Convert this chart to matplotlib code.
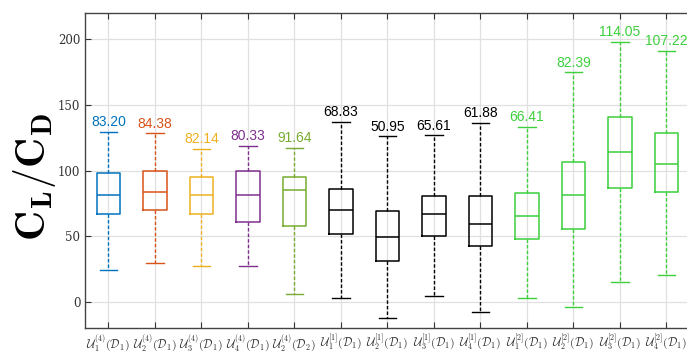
import numpy as np
import matplotlib
matplotlib.use("Agg")
import matplotlib.pyplot as plt

plt.rcParams['mathtext.fontset'] = 'cm'

# box statistics per case
labels = [r'$\mathcal{U}_1^{(4)}(\mathcal{D}_1)$', r'$\mathcal{U}_2^{(4)}(\mathcal{D}_1)$',
          r'$\mathcal{U}_3^{(4)}(\mathcal{D}_1)$', r'$\mathcal{U}_4^{(4)}(\mathcal{D}_1)$',
          r'$\mathcal{U}_2^{(4)}(\mathcal{D}_2)$', r'$\mathcal{U}_1^{[1]}(\mathcal{D}_1)$',
          r'$\mathcal{U}_2^{[1]}(\mathcal{D}_1)$', r'$\mathcal{U}_3^{[1]}(\mathcal{D}_1)$',
          r'$\mathcal{U}_4^{[1]}(\mathcal{D}_1)$', r'$\mathcal{U}_1^{[2]}(\mathcal{D}_1)$',
          r'$\mathcal{U}_2^{[2]}(\mathcal{D}_1)$', r'$\mathcal{U}_3^{[2]}(\mathcal{D}_1)$',
          r'$\mathcal{U}_4^{[2]}(\mathcal{D}_1)$']
whislo = [24.0, 29.3, 27.0, 27.0, 6.0, 2.5, -12.6, 4.3, -8.1, 2.5, -4.3, 14.9, 20.5]
q1 = [66.9, 70.2, 67.2, 61.1, 57.6, 51.3, 30.8, 50.3, 42.2, 48.0, 55.6, 86.6, 83.6]
med = [81.6, 83.3, 81.3, 81.0, 85.4, 69.9, 49.7, 67.2, 59.6, 65.4, 81.3, 114.2, 105.3]
q3 = [98.2, 99.5, 95.2, 99.5, 95.2, 85.6, 69.2, 80.8, 80.8, 82.8, 106.3, 140.7, 128.8]
whishi = [129.3, 128.5, 116.7, 118.7, 117.2, 137.3, 126.0, 127.0, 136.4, 133.3, 175.0, 198.2, 191.4]
means = [83.20, 84.38, 82.14, 80.33, 91.64, 68.83, 50.95, 65.61, 61.88, 66.41, 82.39, 114.05, 107.22]

colors = ['#0072BD', '#D95319', '#EDB120', '#7E2F8E', '#77AC30',
          'black', 'black', 'black', 'black',
          '#3CD03C', '#3CD03C', '#3CD03C', '#3CD03C']

stats = []
for i in range(len(labels)):
    stats.append({'whislo': whislo[i], 'q1': q1[i], 'med': med[i],
                  'q3': q3[i], 'whishi': whishi[i], 'fliers': []})

fig = plt.figure(figsize=(6.87, 3.54), dpi=100)
ax = fig.add_axes([0.124, 0.0734, 0.88, 0.8896])

pos = np.arange(1, len(labels) + 1)
bp = ax.bxp(stats, positions=pos, widths=0.5, capwidths=0.37,
            showfliers=False, patch_artist=False)

for i, c in enumerate(colors):
    bp['boxes'][i].set(color=c, linewidth=1.1)
    bp['medians'][i].set(color=c, linewidth=1.1)
    for w in bp['whiskers'][2 * i:2 * i + 2]:
        w.set(color=c, linestyle=(0, (2.5, 1.5)), linewidth=1.0)
    for cp in bp['caps'][2 * i:2 * i + 2]:
        cp.set(color=c, linewidth=1.0)
    ax.text(pos[i], whishi[i] + 2.0, '%.2f' % means[i], color=c,
            ha='center', va='bottom', fontsize=10, family='Liberation Sans')

ax.set_xlim(0.5, 13.5)
ax.set_ylim(-20, 220)
ax.set_yticks([0, 50, 100, 150, 200])
ax.set_xticks(pos)
ax.set_xticklabels(labels, fontsize=8.5)
ax.tick_params(axis='y', labelsize=8.5, direction='in', length=4, colors='#333333')
ax.tick_params(axis='x', direction='in', length=4, top=True, colors='#333333',
               labelcolor='#333333')
for lab in ax.get_yticklabels():
    lab.set_fontname('DejaVu Serif')
ax.grid(True, color='#e0e0e0', linewidth=0.9)
ax.set_axisbelow(True)
for s in ax.spines.values():
    s.set_color('#444444')
    s.set_linewidth(1.0)

ax.set_ylabel(r'$\mathbf{C_L/C_D}$', fontsize=30)
ax.yaxis.set_label_coords(-0.045, 0.48)

fig.savefig('out.png', dpi=100)
